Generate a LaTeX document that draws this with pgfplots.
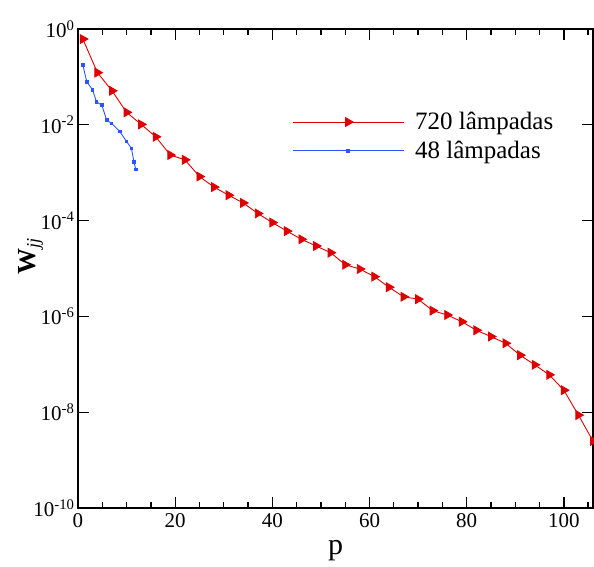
\documentclass[border=0pt]{standalone}
\usepackage{fontspec}
\setmainfont{Liberation Serif}
\usepackage{pgfplots}
\pgfplotsset{compat=1.18}
\definecolor{myred}{RGB}{222,0,0}
\definecolor{myblue}{RGB}{45,85,255}
\begin{document}
\begin{tikzpicture}
\begin{axis}[
  at={(0pt,0pt)}, anchor=south west,
  scale only axis, width=515pt, height=479pt,
  ymode=log, xmin=0, xmax=106, ymin=1e-10, ymax=1,
  xtick={0,20,40,60,80,100}, xticklabels={0,20,40,60,80,100},
  minor xtick={5,10,15,25,30,35,45,50,55,65,70,75,85,90,95,105},
  ytick={1e-10,1e-8,1e-6,1e-4,1e-2,1},
  yticklabels={10\textsuperscript{-10},10\textsuperscript{-8},10\textsuperscript{-6},10\textsuperscript{-4},10\textsuperscript{-2},10\textsuperscript{0}},
  yminorticks=false,
  xtick pos=both, ytick pos=both,
  tick align=inside,
  major tick length=11pt, minor tick length=6pt,
  major tick style={draw=black, line width=1.3pt},
  minor tick style={draw=black, line width=1.3pt},
  axis line style={line width=1.5pt},
  ticklabel style={font=\fontsize{21}{24}\selectfont},
  xticklabel style={yshift=-2pt},
  xlabel={p}, xlabel style={font=\fontsize{30}{32}\selectfont, yshift=-6pt},
  ylabel={\textbf{W}\textsubscript{\textit{jj}}},
  ylabel style={font=\fontsize{26}{28}\selectfont, at={(axis description cs:-0.092,0.526)}, anchor=center},
  legend style={draw=none, fill=none, at={(0.4155,0.828)}, anchor=north west,
    font=\fontsize{25}{29}\selectfont, row sep=8pt, inner sep=0pt,
    nodes={inner sep=1pt}},
  legend cell align=left,
  legend image code/.code={
    \draw[mark repeat=2,mark phase=2,#1] plot coordinates {(0pt,0pt) (55.5pt,0pt) (111pt,0pt)};},
]
\addplot[myred, line width=0.9pt, mark=triangle*, mark size=5pt,
  mark options={rotate=-90, solid, fill=myred}] coordinates {
(1,0.617) (4,0.123) (7,0.0513) (10,0.0182) (13,0.0102) (16,0.00562)
(19,0.00234) (22,0.00186) (25,8.32e-4) (28,5.01e-4) (31,3.39e-4) (34,2.34e-4)
(37,1.41e-4) (40,9.12e-5) (43,6.03e-5) (46,4.07e-5) (49,2.95e-5) (52,2.14e-5)
(55,1.20e-5) (58,9.77e-6) (61,6.76e-6) (64,4.07e-6) (67,2.57e-6) (70,2.29e-6)
(73,1.32e-6) (76,1.07e-6) (79,7.76e-7) (82,5.13e-7) (85,3.80e-7) (88,2.75e-7)
(91,1.55e-7) (94,9.77e-8) (97,6.03e-8) (100,2.88e-8) (103,8.71e-9) (106,2.51e-9)
};
\addlegendentry{\hspace{10pt}720 lâmpadas}
\addplot[myblue, line width=0.9pt, mark=square*, mark size=1.3pt] coordinates {
(1,0.178) (1.8,0.0794) (3,0.0537) (3.8,0.0302) (4.9,0.0257) (5.9,0.0126)
(6.9,0.0107) (8.6,0.00724) (10,0.00447) (11,0.00324) (11.5,0.00170) (11.9,0.00117)
};
\addlegendentry{\hspace{10pt}48 lâmpadas}
\end{axis}
\pgfresetboundingbox
\path (-78pt,-58pt) rectangle (516pt,508pt);
\end{tikzpicture}
\end{document}
